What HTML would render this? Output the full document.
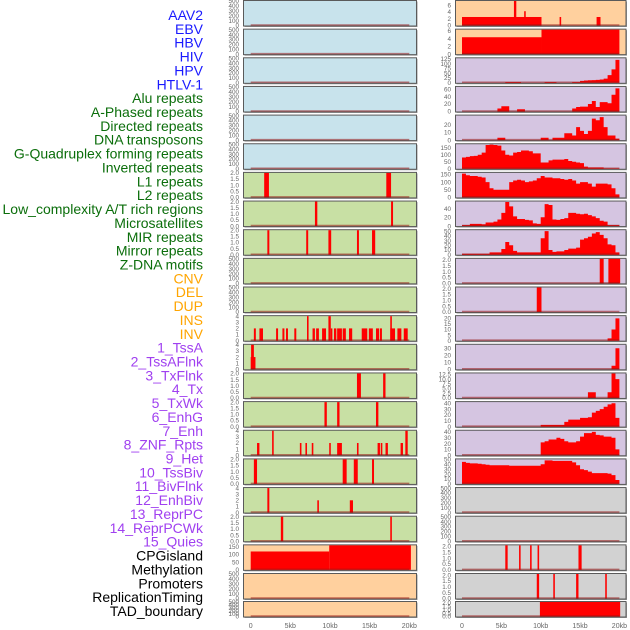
<!DOCTYPE html>
<html><head><meta charset="utf-8"><style>
html,body{margin:0;padding:0;background:#fff;}
svg{display:block;font-family:"Liberation Sans",sans-serif;}
</style></head><body>
<svg id="chart" width="630" height="630" viewBox="0 0 630 630" xmlns="http://www.w3.org/2000/svg"></svg>
<script>
// ---------- data ----------
const labels = ["AAV2","EBV","HBV","HIV","HPV","HTLV-1","Alu repeats","A-Phased repeats","Directed repeats","DNA transposons","G-Quadruplex forming repeats","Inverted repeats","L1 repeats","L2 repeats","Low_complexity A/T rich regions","Microsatellites","MIR repeats","Mirror repeats","Z-DNA motifs","CNV","DEL","DUP","INS","INV","1_TssA","2_TssAFlnk","3_TxFlnk","4_Tx","5_TxWk","6_EnhG","7_Enh","8_ZNF_Rpts","9_Het","10_TssBiv","11_BivFlnk","12_EnhBiv","13_ReprPC","14_ReprPCWk","15_Quies","CPGisland","Methylation","Promoters","ReplicationTiming","TAD_boundary"];
const labelGroups = [6,13,5,15,5];
const xTickKb = [0,5,10,15,20];
const xTickLabels = ["0","5kb","10kb","15kb","20kb"];

// middle column: y-limits, ticks, and intervals [startKb,endKb,value]
const midYmax = [500,500,500,500,500,500,2,2,2,500,500,4,4,2,2,4,2,4,2,160,500,500];
const midTicks = [
 [0,100,200,300,400,500],[0,100,200,300,400,500],[0,100,200,300,400,500],[0,100,200,300,400,500],[0,100,200,300,400,500],[0,100,200,300,400,500],
 [0,0.5,1,1.5,2],[0,0.5,1,1.5,2],[0,0.5,1,1.5,2],[0,100,200,300,400,500],[0,100,200,300,400,500],
 [0,1,2,3,4],[0,1,2,3,4],[0,0.5,1,1.5,2],[0,0.5,1,1.5,2],[0,1,2,3,4],[0,0.5,1,1.5,2],[0,1,2,3,4],[0,0.5,1,1.5,2],
 [0,50,100,150],[0,100,200,300,400,500],[0,100,200,300,400,500]];
const midData = [
 [],[],[],[],[],[],
 [[1.7,2.3,2],[17.1,17.7,2]],
 [[8.1,8.4,2],[17.7,17.95,2]],
 [[2.1,2.35,2],[7.0,7.25,2],[9.8,10.15,2],[13.4,13.65,2],[15.3,15.7,2]],
 [],[],
 [[0.4,0.65,2],[1.1,1.55,2],[3.2,3.45,2],[4.0,4.25,2],[4.45,4.7,2],[5.5,5.75,2],[7.1,7.3,4],[7.8,8.1,2],[8.25,8.6,2],[9.0,9.5,2],[9.8,10.1,4],[10.1,10.3,2],[10.5,10.8,2],[10.9,11.5,2],[11.6,12.0,2],[12.4,12.8,2],[14.0,14.7,2],[14.9,15.4,2],[15.8,16.2,2],[16.3,16.55,2],[17.6,17.8,4],[17.6,18.2,2],[18.5,19.0,2],[19.3,19.8,2]],
 [[0,0.6,2],[0.05,0.4,4]],
 [[13.4,13.9,2],[16.7,17.0,2]],
 [[9.3,9.6,2],[10.9,11.2,2],[15.8,16.1,2]],
 [[0.8,1.1,2],[2.7,2.9,4],[6.2,6.4,2],[6.9,7.1,2],[7.7,7.9,2],[9.9,10.1,2],[10.9,11.5,2],[13.4,13.6,2],[16.0,16.3,2],[16.4,16.6,2],[17.0,17.3,2],[18.9,19.2,2],[19.5,19.8,4]],
 [[0.4,0.8,2],[11.6,12.1,2],[13.0,13.5,2],[15.3,15.55,2]],
 [[2.1,2.35,4],[8.4,8.6,2],[12.5,12.9,2]],
 [[3.8,4.1,2],[17.6,17.8,2]],
 [[0,9.9,120],[9.9,20.2,160]],
 [],[]
];

// right column: y-limits, ticks, 0.5kb-binned values (40 bins) or intervals
const rightYmax = [7.2,6.3,128,66,32,175,160,56,52,2.1,2.1,22,35,13,42,42,50,500,500,2.1,2.1,2.1];
const rightTicks = [
 [0,2,4,6],[0,2,4,6],[0,25,50,75,100,125],[0,20,40,60],[0,10,20],[0,50,100,150],[0,50,100,150],[0,20,40],[0,10,20,30,40,50],
 [0,0.5,1,1.5,2],[0,0.5,1,1.5,2],[0,5,10,15,20],[0,10,20,30],[0,2.5,5,7.5,10,12.5],[0,10,20,30,40],[0,10,20,30,40],[0,10,20,30,40,50],
 [0,100,200,300,400,500],[0,100,200,300,400,500],[0,0.5,1,1.5,2],[0,0.5,1,1.5,2],[0,0.5,1,1.5,2]];
const rightIntervals = {
 0: [[0,10.1,2.5],[6.6,6.9,7.3],[7.9,8.1,4.2],[12.4,12.6,2.5],[17.1,17.6,2.5]],
 1: [[0,10.1,4.35],[10.1,20,7]],
 9: [[17.5,18.0,2.1],[18.6,20.1,2.1]],
 10: [[9.5,10.1,2.1]],
 19: [[5.5,5.8,2.1],[7.25,7.45,2.1],[8.65,8.85,2.1],[9.6,9.8,2.1],[14.8,15.2,2.1]],
 20: [[9.5,9.8,2.1],[11.6,11.8,2.1],[14.5,14.8,2.1],[18.2,18.4,2.1]],
 21: [[9.9,20.1,2.1]]
};
const hivBins = [0,0,0,0,0,0,0,0,0,0,0,4,4,4,4,0,0,0,0,0,0,4,4,4,0,0,0,0,4,4,10,12,13,14,15,17,22,40,70,120];
const aluBins = [0,0,0,0,0,0,0,0,0,8,14,14,0,0,6,6,0,0,0,0,0,0,0,0,0,0,0,0,8,12,13,13,20,28,12,25,25,22,45,62];
const dnaBins = [0,0,0,0,0,0,0,0,0,3,3,0,0,0,0,0,0,0,0,0,3,3,0,3,3,3,9,9,6,17,12,8,12,28,26,30,17,6,6,2];
const gquadBins = [80,85,90,92,100,115,170,172,170,165,130,100,95,115,120,130,130,125,110,110,45,45,60,65,65,65,70,55,50,45,40,15,10,10,10,10,3,3,3,3];
const invertedBins = [155,145,140,140,135,130,100,60,50,50,50,50,100,110,115,110,100,105,110,125,140,130,130,125,125,120,115,120,110,90,100,100,90,70,90,90,90,85,60,20];
const l2Bins = [2,2,5,5,5,4,8,8,10,15,30,55,45,22,16,16,14,13,6,5,20,50,48,15,14,16,18,30,30,28,27,28,25,22,18,12,10,2,2,2];
const microBins = [2,2,2,2,2,2,2,5,5,5,12,27,20,8,5,5,5,5,5,5,35,50,10,6,7,7,10,13,13,15,32,35,38,45,48,42,35,22,20,5];
const insBins = [0,0,0,0,0,0,0,0,0,0,0,0,0,0,0,0,0,0,0,0,0,0,0,0,0,0,0,0,0,0,0,0,0,0,0,0,0,2,10,20];
const invBins = [0,0,0,0,0,0,0,0,0,0,0,0,0,0,0,0,0,0,0,0,0,0,0,0,0,0,0,0,0,0,0,0,0,0,0,0,0,0,5,30];
const tssaBins = [0,0,0,0,0,0,0,0,0,0,0,0,0,0,0,0,0,0,0,0,0,0,0,0,0,0,0,0,0,0,0,0,3,3,0,0,0,3,13,10];
const txBins = [0,0,0,0,0,0,0,0,0,0,0,0,0,0,0,0,0,0,0,0,3,3,3,3,3,3,8,12,12,12,15,15,16,24,27,30,34,38,40,15];
const txwkBins = [0,0,0,0,0,0,0,0,0,0,0,0,0,0,0,0,0,0,0,0,22,24,27,27,30,28,24,22,22,24,32,38,38,40,35,34,32,32,30,10];
const enhBins = [45,43,42,42,41,40,39,38,38,38,38,38,37,37,37,37,37,37,37,37,40,48,48,47,47,47,47,47,44,38,30,28,25,22,22,22,22,21,18,8];
const rightBins = {2:hivBins,3:aluBins,4:dnaBins,5:gquadBins,6:invertedBins,7:l2Bins,8:microBins,11:insBins,12:invBins,13:tssaBins,14:txBins,15:txwkBins,16:enhBins};

// ---------- drawing ----------
const NS = "http://www.w3.org/2000/svg";
const svg = document.getElementById("chart");
function mk(tag, attrs, parent){ const e=document.createElementNS(NS,tag); for(const k in attrs) e.setAttribute(k,attrs[k]); (parent||svg).appendChild(e); return e; }

const labelColors = ["#1a1aff","#0b6e0b","#ffa500","#a040f0","#000000"];
let li=0;
labelGroups.forEach((n,g)=>{ for(let k=0;k<n;k++){ const t=mk("text",{x:203,y:(20+li*13.86).toFixed(1),"text-anchor":"end","font-size":"14",fill:labelColors[g]});
 
 
 t.textContent=labels[li]; li++; } });

const midCol = {x0:243.5,x1:416.5,zero:250.7,scale:7.93,tickX:239};
const rightCol = {x0:455.5,x1:626,zero:462,scale:7.87,tickX:451};
const midColors = i => i<6?"#c8e3ec":(i<19?"#c8e0a4":"#ffd09e");
const rightColors = i => i<2?"#ffd09e":(i<17?"#d5c5e1":"#d2d2d2");

function panel(col, i, color, ymax, ticks, intervals, bins, name){
  const top = i===21 ? 601.5 : 0.5+i*28.65;
  const h = i===21 ? 15.5 : 25.5;
  const g = mk("g",{});
  
  
  mk("rect",{x:col.x0+1,y:top+1,width:col.x1-col.x0,height:h,fill:"#9a9a9a"},g);
  mk("rect",{x:col.x0,y:top,width:col.x1-col.x0,height:h,fill:color,stroke:"#5a5a5a","stroke-width":1},g);
  const yb = top+h-0.5, yt = top+0.5;
  const ys = v => yb - (Math.min(v,ymax)/ymax)*(yb-yt);
  const xs = kb => Math.max(col.x0, Math.min(col.x1, col.zero + kb*col.scale));
  if(bins){
    let d = "M"+xs(0).toFixed(2)+","+yb;
    bins.forEach((v,b)=>{ const y=ys(v).toFixed(2); d += "L"+xs(b*0.5).toFixed(2)+","+y+"L"+xs(b*0.5+0.5).toFixed(2)+","+y; });
    d += "L"+xs(20).toFixed(2)+","+yb+"Z";
    const p = mk("path",{d:d,fill:"#ff0000"},g);
    
    
  }
  intervals.forEach(iv=>{
    const r = mk("rect",{x:xs(iv[0]).toFixed(2),y:ys(iv[2]).toFixed(2),width:Math.max(0,xs(iv[1])-xs(iv[0])).toFixed(2),height:(yb-ys(iv[2])).toFixed(2),fill:"#ff0000"},g);
    
    
  });
  mk("line",{x1:xs(0),x2:xs(20),y1:yb-0.5,y2:yb-0.5,stroke:"rgba(150,20,20,0.55)","stroke-width":1.5},g);
  ticks.forEach(tv=>{
    const t = mk("text",{x:col.tickX,y:(ys(tv)+2.2).toFixed(2),"text-anchor":"end","font-size":"6.3",fill:"#666"},g);
    
    
    t.textContent = (ticks.some(x=>!Number.isInteger(x)) && Number.isInteger(tv) && ymax<=13) ? tv.toFixed(1) : String(tv);
  });
}

for(let i=0;i<22;i++){
  panel(midCol,i,midColors(i),midYmax[i],midTicks[i],midData[i],null,"left-track-panel-"+i);
  panel(rightCol,i,rightColors(i),rightYmax[i],rightTicks[i],rightIntervals[i]||[],rightBins[i]||null,"right-track-panel-"+i);
}

[midCol,rightCol].forEach((col,ci)=>{
  xTickKb.forEach((kb,k)=>{
    const t = mk("text",{x:(col.zero+kb*col.scale).toFixed(1),y:628,"text-anchor":"middle","font-size":"7",fill:"#666"});
    
    
    t.textContent = xTickLabels[k];
  });
});
</script>
</body></html>
